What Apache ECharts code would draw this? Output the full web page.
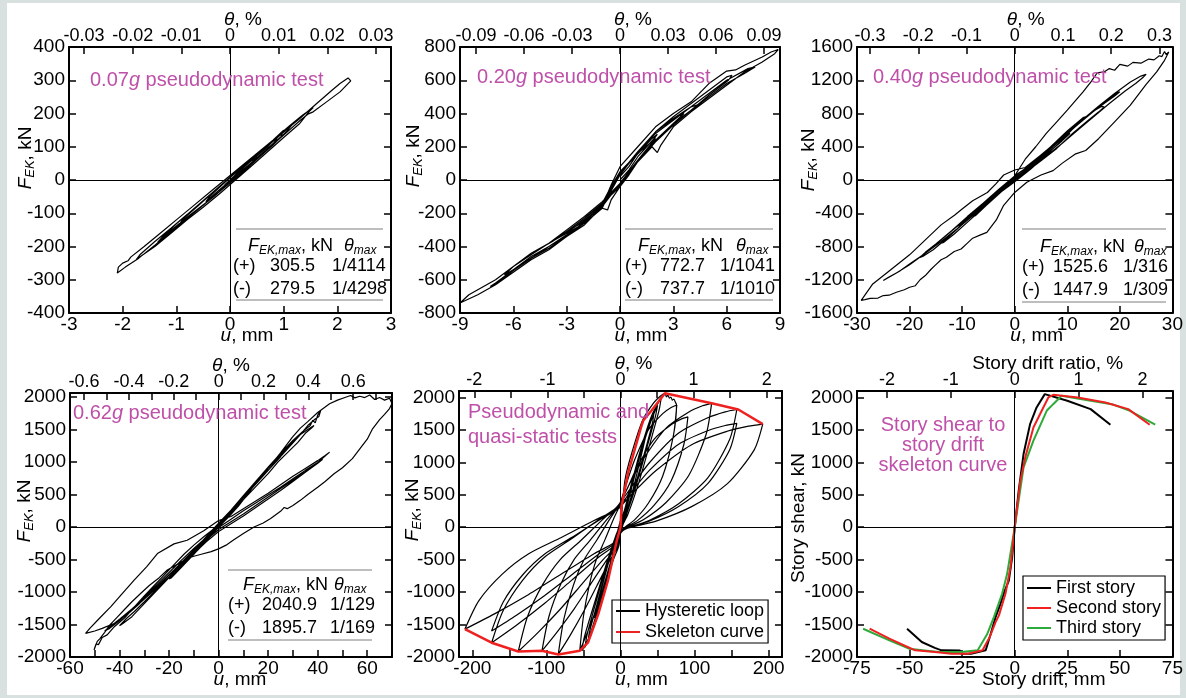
<!DOCTYPE html>
<html><head><meta charset="utf-8">
<script src="https://cdn.jsdelivr.net/npm/echarts@6/dist/echarts.min.js"></script>
<style>html,body{margin:0;padding:0;background:#d8e0e0}#c{width:1186px;height:698px}</style>
</head><body><div id="c"></div>
<script>
// ---------------- tick / label values ----------------
const xTicks1 = [-3,-2,-1,0,1,2,3];
const xTicks2 = [-9,-6,-3,0,3,6,9];
const xTicks3 = [-30,-20,-10,0,10,20,30];
const xLabels4 = [-60,-40,-20,0,20,40,60];
const xTicks4 = [-60,-50,-40,-30,-20,-10,0,10,20,30,40,50,60,70];
const xLabels5 = [-200,-100,0,100,200];
const xTicks5 = [-200,-150,-100,-50,0,50,100,150,200];
const xTicks6 = [-75,-50,-25,0,25,50,75];
const tTicks1 = [-0.03,-0.02,-0.01,0,0.01,0.02,0.03];
const tTicks2 = [-0.09,-0.06,-0.03,0,0.03,0.06,0.09];
const tTicks3 = [-0.3,-0.2,-0.1,0,0.1,0.2,0.3];
const tLabels4 = [-0.6,-0.4,-0.2,0,0.2,0.4,0.6];
const tTicks4 = [-0.6,-0.5,-0.4,-0.3,-0.2,-0.1,0,0.1,0.2,0.3,0.4,0.5,0.6,0.7];
const tLabels5 = [-2,-1,0,1,2];
const tTicks5 = [-2,-1.5,-1,-0.5,0,0.5,1,1.5,2];
const tTicks6 = [-2,-1,0,1,2];
const yTicks1 = [-400,-300,-200,-100,0,100,200,300,400];
const yTicks2 = [-800,-600,-400,-200,0,200,400,600,800];
const yTicks3 = [-1600,-1200,-800,-400,0,400,800,1200,1600];
const yTicks4 = [-2000,-1500,-1000,-500,0,500,1000,1500,2000];

// ---------------- table values ----------------
const tableFmax = [['305.5','279.5'],['772.7','737.7'],['1525.6','1447.9'],['2040.9','1895.7']];
const tableTheta = [['1/4114','1/4298'],['1/1041','1/1010'],['1/316','1/309'],['1/129','1/169']];

// ---------------- series values: [u (mm), F (kN)] ----------------
const loop007 = [
[0,0],[0.2,30],[0.45,65],[0.5,72],[0.42,55],[0.2,22],[0,-2],[-0.2,-30],[-0.4,-58],[-0.45,-66],[-0.38,-50],[-0.15,-15],[0.1,22],[0.4,58],[0.7,100],[0.85,125],[0.9,132],[0.82,112],[0.55,72],[0.25,28],[0,-8],[-0.3,-50],[-0.6,-88],[-0.85,-120],[-0.95,-135],[-0.88,-118],[-0.6,-78],[-0.3,-35],[0,8],[0.3,45],[0.6,88],[0.9,130],[1.1,158],[1.15,165],[1.05,145],[0.8,105],[0.5,62],[0.2,18],[-0.1,-22],[-0.4,-62],[-0.8,-112],[-1.1,-152],[-1.3,-180],[-1.35,-188],[-1.25,-170],[-1.0,-132],[-0.7,-90],[-0.4,-48],[-0.1,-6],[0.2,36],[0.5,78],[0.8,120],[1.1,162],[1.35,195],[1.5,212],[1.55,218],[1.47,205],[1.5,200],[1.3,170],[1.0,128],[0.7,85],[0.4,42],[0.1,0],[-0.2,-42],[-0.5,-82],[-0.8,-120],[-1.1,-160],[-1.4,-200],[-1.65,-228],[-1.75,-240],[-1.68,-225],[-1.4,-185],[-1.1,-145],[-0.8,-104],[-0.5,-62],[-0.2,-20],[0.1,22],[0.4,62],[0.7,104],[1.0,145],[1.3,185],[1.6,228],[1.9,270],[2.05,290],[2.2,307],[2.25,298],[2.05,265],[1.8,235],[1.55,205],[1.45,198],[1.3,178],[1.0,135],[0.7,92],[0.4,50],[0.1,8],[-0.2,-35],[-0.5,-76],[-0.8,-116],[-1.1,-156],[-1.4,-196],[-1.7,-235],[-1.95,-262],[-2.1,-280],[-2.08,-262],[-2.0,-250],[-1.9,-243],[-1.85,-232],[-1.6,-200],[-1.3,-160],[-1.0,-120],[-0.7,-80],[-0.4,-40],[-0.1,0],[0.2,40],[0.5,80],[0.8,120],[1.0,150],[0.95,130],[0.7,95],[0.4,52],[0.1,12],[-0.1,-15],[0,0]
];
const loop020 = [
[0,0],[0.5,60],[1,140],[1.5,200],[2,260],[2.1,275],[1.8,250],[1.2,180],[0.5,100],[0,30],[-0.5,-60],[-1,-150],[-1.5,-200],[-2,-240],[-2.2,-260],[-1.8,-230],[-1,-160],[-0.5,-90],[0,-20],[0.5,50],[1,120],[2,230],[3,340],[3.6,400],[3.2,380],[2.5,320],[2,280],[1,170],[0.5,100],[0,40],[-0.6,-70],[-1,-170],[-2,-260],[-3,-320],[-4,-380],[-4.3,-400],[-3.8,-370],[-3,-310],[-2,-230],[-1,-140],[0,-30],[1,110],[2,230],[3,330],[4,420],[5,510],[6.1,600],[6.3,630],[6,620],[5,540],[4,460],[3,380],[2,290],[1.5,220],[1,160],[0,50],[-0.5,-40],[-1,-140],[-2,-260],[-3,-335],[-4,-400],[-5,-460],[-6,-540],[-7,-620],[-7.3,-640],[-6.8,-610],[-6,-545],[-5,-470],[-4,-410],[-3,-340],[-2,-250],[-1,-160],[-0.5,-90],[0,-40],[0.5,30],[1,110],[1.8,200],[2.1,165],[2.3,210],[3,320],[4,410],[5,490],[6,570],[7,650],[8,710],[8.7,760],[8.9,785],[8.5,770],[8,740],[7,690],[6.5,662],[6,655],[5,580],[4,470],[3,400],[2,320],[1,200],[0,80],[-0.5,-30],[-1,-160],[-2,-270],[-3,-340],[-4,-420],[-5,-480],[-6,-555],[-7,-630],[-8,-690],[-9,-740],[-9.1,-750],[-8.5,-690],[-7.5,-630],[-7,-600],[-6,-520],[-5,-440],[-4,-380],[-3,-300],[-2,-220],[-1,-130],[0,-20],[1,120],[2,230],[3,330],[4,420],[5,500],[6,580],[7,640],[7.6,680],[7.2,670],[6,600],[5,520],[4,440],[3,360],[2,280],[1,170],[0,40],[-1,-150],[-2,-255],[-3,-330],[-4,-400],[-5,-470],[-6,-540],[-6.5,-570],[-6,-520],[-5,-450],[-4,-380],[-3,-310],[-2,-230],[-1,-150],[0,-20],[1,120],[2,240],[3,340],[4,420],[4.6,460],[4,440],[3,370],[2,290],[1,170],[0,30],[-1,-160],[-2,-250],[-3,-310],[-3.2,-330],[-2.5,-280],[-1.5,-200],[-1,-170],[-0.7,-180],[-0.5,-120],[0,-40],[1,120],[2,250],[1,160],[0.5,80],[0,20]
];
const loop040 = [
[0,0],[2,90],[4,190],[5.5,270],[5,265],[3,170],[1,70],[-1,-40],[-3,-150],[-5,-250],[-6,-300],[-5.5,-290],[-3.5,-190],[-1.5,-80],[0.5,30],[3,150],[6,310],[9,470],[10.5,560],[10,555],[8,460],[5,300],[2,140],[0,40],[-2,-70],[-5,-230],[-8,-400],[-10,-500],[-11,-560],[-10.5,-545],[-8.5,-440],[-5.5,-280],[-2.5,-110],[0,20],[2.5,110],[5,230],[8,380],[11,560],[14,720],[16,820],[17,880],[16.5,885],[15,830],[12,680],[9,520],[6,350],[3,180],[0,50],[-3,-110],[-6,-280],[-9,-440],[-12,-610],[-15,-770],[-17,-870],[-18,-930],[-17.5,-920],[-15.5,-840],[-12.5,-680],[-9,-480],[-6,-300],[-3,-130],[0,30],[3,150],[6,290],[9,440],[12,600],[15,760],[18,920],[21,1070],[23,1160],[24.5,1240],[25,1270],[24,1250],[22,1180],[19,1040],[16,890],[13,730],[10,570],[7,400],[4,230],[1,70],[-2,-100],[-5,-270],[-8,-430],[-11,-590],[-14,-740],[-17,-880],[-20,-1010],[-22,-1100],[-24,-1170],[-25,-1210],[-24.5,-1190],[-22.5,-1120],[-20,-1020],[-17,-880],[-14,-720],[-11,-560],[-8,-400],[-5,-240],[-2,-70],[0,50],
[1,150],[2,250],[4,400],[6,560],[8,700],[10,840],[11.6,958],[13,1060],[14.5,1180],[15.7,1290],[17,1300],[18,1340],[19,1320],[20,1390],[21.5,1370],[22.5,1415],[24,1405],[25.5,1455],[26.5,1445],[27.5,1495],[28,1485],[28.5,1545],[28.8,1510],[29.3,1540],[29.6,1525],[28.5,1440],[27,1300],[25,1150],[22,900],[19,700],[16,500],[13.5,355],[11.6,315],[9,200],[7.3,113],[5,60],[2.3,-28],[0,-150],[-2.1,-305],[-3.5,-480],[-5.3,-630],[-6.5,-660],[-8,-700],[-9,-760],[-10.2,-830],[-11.5,-860],[-13,-930],[-14,-960],[-15.2,-1030],[-16,-1080],[-17,-1150],[-18,-1200],[-18.9,-1272],[-20,-1290],[-21,-1320],[-22.5,-1350],[-23.9,-1386],[-25,-1390],[-26,-1420],[-27.5,-1425],[-28.5,-1440],[-29.2,-1448],[-27,-1250],[-24,-1100],[-20,-900],[-17,-720],[-14,-540],[-11.4,-420],[-10,-350],[-8,-250],[-5.2,-150],[-3.5,-40],[-2.1,60],[0,120],
[2,150],[5,300],[8,460],[11,620],[14,780],[17,920],[19,1010],[20,1060],[19.5,1050],[17.5,960],[14.5,800],[11.5,640],[8.5,470],[5.5,300],[2.5,130],[0,10],[-2,-100],[-5,-260],[-8,-420],[-11,-590],[-13,-700],[-14,-760],[-13.5,-750],[-11.5,-650],[-8.5,-480],[-5.5,-310],[-2.5,-140],[0,-20],[3,130],[6,300],[9,480],[12,680],[13.5,760],[13,750],[10,590],[7,410],[4,220],[1,50],[-2,-110],[-5,-280],[-7,-390],[-8,-440],[-7.5,-430],[-5,-280],[-2,-100],[0,0]
];
const loop062 = [
[0,0],[4,150],[8,330],[10,420],[9,400],[6,270],[2,90],[-2,-80],[-6,-230],[-9,-350],[-10,-400],[-9,-380],[-6,-260],[-2,-90],[2,100],[6,280],[10,460],[14,640],[18,800],[20,880],[19,860],[15,700],[10,480],[5,250],[0,40],[-5,-180],[-10,-390],[-15,-590],[-18,-720],[-20,-800],[-19,-780],[-15,-620],[-10,-420],[-5,-200],[0,20],
[5,250],[10,470],[15,680],[20,900],[25,1100],[30,1320],[33,1420],[36,1500],[38.5,1560],[37.5,1520],[35,1440],[32,1300],[28,1150],[24,1000],[20,820],[15,620],[10,420],[5,210],[0,20],[-5,-170],[-10,-370],[-15,-570],[-20,-770],[-25,-960],[-30,-1150],[-34,-1300],[-37,-1400],[-40,-1520],[-38.5,-1480],[-35,-1380],[-30,-1180],[-25,-980],[-20,-780],[-15,-570],[-10,-360],[-5,-150],[0,60],
[5,260],[10,480],[15,700],[20,920],[25,1130],[30,1330],[34,1470],[37,1560],[38,1640],[39,1600],[40,1720],[41.2,1790],[40.5,1700],[39,1660],[36,1560],[33,1420],[29,1250],[25,1080],[20,870],[15,660],[10,450],[5,240],[0,40],[-6,-200],[-12,-430],[-18,-660],[-24,-880],[-30,-1100],[-36,-1300],[-42,-1480],[-47,-1560],[-50,-1600],[-53.7,-1637],[-52,-1560],[-48,-1400],[-43.6,-1228],[-39,-1030],[-34.1,-819],[-29,-610],[-24.7,-409],[-18,-260],[-12.7,-204],[-6,-60],[0,100],
[5,160],[10,280],[15,400],[20,520],[25,650],[30,780],[35,900],[40,1020],[43,1100],[44.8,1150],[43,1090],[40,990],[35,850],[30,720],[25,590],[20,460],[15,330],[10,200],[5,80],[0,-40],[-5,-200],[-10,-380],[-15,-560],[-20,-740],[-25,-920],[-30,-1090],[-35,-1260],[-40,-1420],[-44,-1540],[-46,-1600],[-44,-1560],[-40,-1440],[-35,-1270],[-30,-1080],[-25,-890],[-20,-700],[-15,-510],[-10,-330],[-5,-160],[0,-10],[5,120],[10,250],[15,370],[20,490],[25,610],[30,740],[35,870],[40,990],[42,1040],[40,980],[35,840],[30,700],[25,560],[20,430],[15,300],[10,170],[5,50],[0,-70],[-5,-230],[-10,-410],[-15,-590],[-20,-770],[-25,-940],[-30,-1110],[-35,-1280],[-39,-1400],[-37,-1350],[-32,-1180],[-26,-960],[-20,-740],[-14,-520],[-8,-300],[-2,-80],[0,0],
[4,150],[8,320],[12,520],[16,720],[20,900],[25,1140],[29.8,1382],[33,1520],[36,1620],[40,1760],[44.8,1894],[48,1950],[51,1990],[53.3,2021],[55,1985],[57,2010],[59,1990],[61,2030],[63,1960],[65,1990],[67,1950],[69,1980],[70,1900],[69,1820],[67,1730],[65,1650],[62,1500],[60,1350],[57,1200],[54,1050],[50,910],[46.6,819],[43,700],[40,610],[36,500],[33,409],[30,330],[27.7,281],[26.5,300],[25,240],[21,130],[18,60],[14.3,0],[10,-100],[6,-200],[3,-280],[0.2,-333],[-3,-380],[-7,-420],[-10,-450],[-12.7,-484],[-16,-560],[-20.7,-662],[-24,-780],[-28,-900],[-31.5,-1023],[-35,-1150],[-38,-1270],[-41,-1390],[-44,-1510],[-46,-1620],[-48,-1720],[-49,-1760],[-50.3,-1893],[-49.5,-1800],[-48.5,-1810],[-47,-1700],[-45,-1660],[-42,-1530],[-38,-1400],[-34,-1230],[-30,-1060],[-26,-900],[-22,-740],[-18,-580],[-14,-420],[-10,-280],[-6,-150],[-2,-30],[0,30]
];
const loopQS = [
[0,0],[8,320],[15,600],[12,470],[5,150],[0,-20],[-8,-330],[-15,-620],[-12,-480],[-5,-150],[0,30],[10,420],[20,850],[30,1250],[40,1600],[45,1750],[43,1600],[35,1250],[20,650],[8,200],[0,-80],[-10,-450],[-20,-850],[-30,-1250],[-40,-1620],[-44,-1780],[-42,-1620],[-32,-1200],[-18,-600],[-6,-150],[0,100],[10,400],[25,1050],[35,1450],[30,1200],[15,500],[0,-50],[-15,-600],[-30,-1200],[-35,-1400],[-30,-1150],[-15,-500],[0,60],
[12,520],[25,1050],[38,1550],[50,1880],[47,1700],[35,1200],[20,600],[5,100],[0,-60],[-12,-520],[-25,-1050],[-38,-1550],[-48,-1850],[-45,-1650],[-33,-1150],[-18,-550],[-5,-100],[0,40],[15,680],[28,1230],[42,1720],[55,2000],[52,1800],[40,1300],[25,700],[10,200],[0,-40],[-15,-680],[-30,-1300],[-45,-1780],[-52,-1900],[-49,-1700],[-36,-1200],[-20,-600],[-6,-120],[0,60],
[6,723],[15,1136],[30,1652],[45,1920],[54,2024],[60,2065],[62,2010],[64,2035],[66,1990],[68,2005],[70,1960],[72,1975],[74,1930],[75.6,1884],[71.4,1413],[57,791],[38,377],[19,113],[3.8,-19],[0,-94],[-2.2,-286],[-9.4,-495],[-20.9,-876],[-32.5,-1257],[-44.6,-1619],[-55,-1905],[-50,-1372],[-41.8,-876],[-32.5,-495],[-20.9,-191],[-9.4,126],[-2.2,305],[0,381],
[7.6,659],[19,1036],[38,1507],[57,1752],[68.4,1846],[76,1884],[71.4,1413],[57,791],[38,377],[19,113],[3.8,-19],[0,-94],[-3.4,-294],[-14.3,-510],[-31.9,-902],[-49.6,-1294],[-68,-1666],[-84,-1960],[-76.4,-1411],[-63.8,-902],[-49.6,-510],[-31.9,-196],[-14.3,129],[-3.4,314],[0,392],
[9.1,595],[22.8,935],[45.5,1360],[68.3,1581],[81.9,1666],[91,1700],[85.5,1275],[68.3,714],[45.5,340],[22.8,102],[4.6,-17],[0,-85],[-4.2,-286],[-18,-495],[-40.3,-876],[-62.5,-1257],[-85.9,-1619],[-106,-1905],[-96.5,-1372],[-80.6,-876],[-62.5,-495],[-40.3,-191],[-18,126],[-4.2,305],[0,381],
[12.3,669],[30.8,1051],[61.5,1528],[92.3,1776],[110.7,1872],[123,1910],[115.6,1433],[92.3,802],[61.5,382],[30.8,115],[6.2,-19],[0,-96],[-5.5,-287],[-23.5,-498],[-52.4,-881],[-81.4,-1264],[-111.8,-1628],[-138,-1915],[-125.6,-1379],[-104.9,-881],[-81.4,-498],[-52.4,-192],[-23.5,126],[-5.5,306],[0,383],
[15.7,635],[39.3,998],[78.5,1452],[117.8,1688],[141.3,1779],[157,1815],[147.6,1361],[117.8,762],[78.5,363],[39.3,109],[7.9,-18],[0,-91],[-7,-267],[-29.6,-463],[-66.1,-819],[-102.7,-1175],[-140.9,-1513],[-174,-1780],[-158.3,-1282],[-132.2,-819],[-102.7,-463],[-66.1,-178],[-29.6,117],[-7,285],[0,356],
[15.7,560],[39.3,880],[78.5,1280],[117.8,1488],[141.3,1568],[157,1600],[147.6,1200],[117.8,672],[78.5,320],[39.3,96],[7.9,-16],[0,-80],[-7,-240],[-29.6,-416],[-66.1,-736],[-102.7,-1056],[-140.9,-1360],[-174,-1600],[-158.3,-1152],[-132.2,-736],[-102.7,-416],[-66.1,-160],[-29.6,106],[-7,256],[0,320],
[19.2,557],[48,875],[96,1272],[144,1479],[172.8,1558],[192,1590],[180.5,1193],[144,668],[96,318],[48,95],[9.6,-16],[0,-80],[-8.4,-236],[-35.7,-408],[-79.8,-722],[-123.9,-1036],[-170.1,-1335],[-210,-1570],[-191.1,-1130],[-159.6,-722],[-123.9,-408],[-79.8,-157],[-35.7,104],[-8.4,251],[0,314],[10,500],[15,640]
];
const skeletonQS = [[-210,-1570],[-174,-1780],[-138,-1915],[-106,-1905],[-84,-1960],[-55,-1905],[-44,-1780],[-30,-1340],[-17,-825],[-5,-206],[0,0],[1.3,310],[10,830],[28,1550],[31,1650],[42,1800],[60,2065],[123,1910],[159,1815],[192,1590]];
const story1 = [[-51.2,-1564],[-44.2,-1769],[-38,-1860],[-34.8,-1897],[-26,-1900],[-25.5,-1950],[-20.8,-1949],[-13.8,-1897],[-11.4,-1641],[-9.1,-1385],[-7,-1200],[-5,-1000],[-2.8,-821],[-1.2,-459],[0,0],[1.9,564],[4.2,1128],[7.3,1590],[10.4,1846],[14.3,2052],[25,1950],[36.1,1821],[45.5,1580]];
const story2 = [[-69,-1564],[-59.6,-1718],[-52,-1830],[-47.3,-1897],[-37.9,-1923],[-30.1,-1949],[-22.3,-1949],[-15.3,-1897],[-12,-1700],[-9.1,-1462],[-7.5,-1359],[-4.4,-1026],[-2,-615],[0,0],[2.7,718],[5,1077],[8.9,1538],[13.6,1846],[16,2000],[18.3,2041],[30,2000],[43.1,1923],[54,1821],[64.2,1580]];
const story3 = [[-72.1,-1564],[-59.6,-1744],[-50.3,-1872],[-36.3,-1923],[-25.4,-1923],[-17.6,-1897],[-13,-1641],[-9.9,-1385],[-6,-1026],[-3.6,-718],[0,0],[4.2,923],[8.9,1334],[15.2,1795],[18.3,1897],[22.3,2026],[34,1960],[46.2,1897],[54.8,1795],[66.8,1580]];

// ---------------- layout ----------------
const FONT = '"Liberation Sans", Arial, Helvetica, sans-serif';
const INK = '#000';
const MAG = '#bf50a9';
const FS = 19;

const panels = [
  {grid:{left:69,top:47,width:322,height:266}, x:[-3,3], t:[-0.0331,0.0331], y:[-400,400],
   xl:xTicks1, xt:xTicks1, tl:tTicks1, tt:tTicks1, yv:yTicks1, tShift:13, bShift:17, yShift:22, yGap:32},
  {grid:{left:460,top:47,width:320,height:266}, x:[-9,9], t:[-0.1,0.1], y:[-800,800],
   xl:xTicks2, xt:xTicks2, tl:tTicks2, tt:tTicks2, yv:yTicks2, tShift:13, bShift:21, yShift:24, yGap:35},
  {grid:{left:857,top:47,width:321,height:266}, x:[-30,30], t:[-0.327,0.327], y:[-1600,1600],
   xl:xTicks3, xt:xTicks3, tl:tTicks3, tt:tTicks3, yv:yTicks3, tShift:11, bShift:22, yShift:20, yGap:37},
  {grid:{left:70,top:393,width:322,height:264}, x:[-60,70], t:[-0.663,0.773], y:[-2000,2060],
   xl:xLabels4, xt:xTicks4, tl:tLabels4, tt:tTicks4, yv:yTicks4, tShift:0, bShift:9, yShift:14, yGap:34},
  {grid:{left:459,top:391,width:323,height:266}, x:[-218,218], t:[-2.21,2.21], y:[-2000,2100],
   xl:xLabels5, xt:xTicks5, tl:tLabels5, tt:tTicks5, yv:yTicks4, tShift:13, bShift:21, yShift:14, yGap:35},
  {grid:{left:857,top:391,width:321,height:266}, x:[-75,75], t:[-2.47,2.47], y:[-2000,2100],
   xl:xTicks6, xt:xTicks6, tl:tTicks6, tt:tTicks6, yv:yTicks4, tShift:33, bShift:29, yShift:6, yGap:49,
   bName:'Story drift, mm', tName:'Story drift ratio, %', yName:'Story shear, kN'}
];

const richName = {
  i:{fontStyle:'italic', fontSize:FS, fontFamily:FONT, color:INK},
  n:{fontSize:FS, fontFamily:FONT, color:INK},
  s:{fontStyle:'italic', fontSize:13, fontFamily:FONT, color:INK, padding:[10,0,0,0]}
};
const fmt = v => String(v);
const lineStyleAxis = {color:INK, width:2};

const xAxes = [], yAxes = [], grids = [];
panels.forEach((p, i) => {
  grids.push(p.grid);
  const nameTS = shift => ({fontSize:FS, fontFamily:FONT, color:INK, rich:richName, padding:[0,0,0,2*shift]});
  xAxes.push({
    type:'value', gridIndex:i, position:'bottom', min:p.x[0], max:p.x[1],
    axisLine:{show:true, onZero:false, lineStyle:lineStyleAxis},
    axisTick:{show:true, inside:true, length:7, lineStyle:{color:INK,width:1.5}, customValues:p.xt},
    axisLabel:{show:true, margin:2, fontSize:FS, fontFamily:FONT, color:INK, customValues:p.xl, formatter:fmt},
    splitLine:{show:false},
    name: p.bName ? '{n|'+p.bName+'}' : '{i|u}{n|, mm}', nameLocation:'middle', nameGap:13, nameMoveOverlap:false,
    nameTextStyle:nameTS(p.bShift)
  });
  xAxes.push({
    type:'value', gridIndex:i, position:'top', min:p.t[0], max:p.t[1],
    axisLine:{show:true, onZero:false, lineStyle:lineStyleAxis},
    axisTick:{show:true, inside:true, length:7, lineStyle:{color:INK,width:1.5}, customValues:p.tt},
    axisLabel:{show:true, margin:2, fontSize:18, fontFamily:FONT, color:INK, customValues:p.tl, formatter:fmt},
    splitLine:{show:false},
    name: p.tName ? '{n|'+p.tName+'}' : '{i|θ}{n|, %}', nameLocation:'middle', nameGap:18, nameMoveOverlap:false,
    nameTextStyle:nameTS(p.tShift)
  });
  yAxes.push({
    type:'value', gridIndex:i, position:'left', min:p.y[0], max:p.y[1],
    axisLine:{show:true, onZero:false, lineStyle:lineStyleAxis},
    axisTick:{show:true, inside:true, length:7, lineStyle:{color:INK,width:1.5}, customValues:p.yv},
    axisLabel:{show:true, margin:4, fontSize:FS, fontFamily:FONT, color:INK, customValues:p.yv, formatter:fmt},
    splitLine:{show:false},
    name: p.yName ? '{n|'+p.yName+'}' : '{i|F}{s|EK}{n|, kN}', nameLocation:'middle', nameGap:p.yGap, nameMoveOverlap:false,
    nameTextStyle:nameTS(p.yShift)
  });
  yAxes.push({
    type:'value', gridIndex:i, position:'right', min:p.y[0], max:p.y[1],
    axisLine:{show:true, onZero:false, lineStyle:lineStyleAxis},
    axisTick:{show:true, inside:true, length:7, lineStyle:{color:INK,width:1.5}, customValues:p.yv},
    axisLabel:{show:false}, splitLine:{show:false}
  });
});

const zeroLines = {
  silent:true, symbol:['none','none'], animation:false, label:{show:false},
  lineStyle:{color:INK, width:1, type:'solid'}, emphasis:{disabled:true},
  data:[{xAxis:0},{yAxis:0}]
};
function lineSeries(name, i, data, color, width, extra) {
  return Object.assign({
    type:'line', name, xAxisIndex:2*i, yAxisIndex:2*i, data,
    symbol:'none', showSymbol:false, animation:false, clip:true,
    lineStyle:{color, width}, itemStyle:{color}, emphasis:{disabled:true}
  }, extra || {});
}
const series = [
  lineSeries('0.07g', 0, loop007, INK, 1.2, {markLine:zeroLines}),
  lineSeries('0.20g', 1, loop020, INK, 1.2, {markLine:zeroLines}),
  lineSeries('0.40g', 2, loop040, INK, 1.2, {markLine:zeroLines}),
  lineSeries('0.62g', 3, loop062, INK, 1.2, {markLine:zeroLines}),
  lineSeries('Hysteretic loop', 4, loopQS, INK, 1.2, {markLine:zeroLines, smooth:0.25}),
  lineSeries('Skeleton curve', 4, skeletonQS, '#ee2020', 2.5, {z:5}),
  lineSeries('First story', 5, story1, INK, 2, {markLine:zeroLines}),
  lineSeries('Second story', 5, story2, '#ee2020', 2, {z:4}),
  lineSeries('Third story', 5, story3, '#2eaa3a', 2, {z:3})
];

// ---------------- graphic texts ----------------
function richG(fs) {
  return {
    n:{fontSize:fs, fontFamily:FONT},
    i:{fontSize:fs, fontFamily:FONT, fontStyle:'italic'},
    s:{fontSize:12, fontFamily:FONT, fontStyle:'italic', padding:[9,0,0,0]}
  };
}
function gText(x, y, text, fill, align, fs) {
  fs = fs || FS;
  return {type:'text', x, y, z:10, silent:true,
    style:{text, fill, font: fs+'px '+FONT, rich:richG(fs), textAlign:align||'left', textVerticalAlign:'middle'}};
}
const graphics = [
  {type:'rect', shape:{x:7, y:3, width:1173, height:692}, style:{fill:'#fff'}, z:-10, silent:true},
  gText(90, 80, '{n|0.07}{i|g}{n| pseudodynamic test}', MAG, 'left', 20),
  gText(477, 77, '{n|0.20}{i|g}{n| pseudodynamic test}', MAG, 'left', 20),
  gText(873, 77, '{n|0.40}{i|g}{n| pseudodynamic test}', MAG, 'left', 20),
  gText(73, 413, '{n|0.62}{i|g}{n| pseudodynamic test}', MAG, 'left', 20),
  gText(468, 412, '{n|Pseudodynamic and}', MAG, 'left', 20),
  gText(468, 437, '{n|quasi-static tests}', MAG, 'left', 20),
  gText(943, 425, '{n|Story shear to}', MAG, 'center', 20),
  gText(943, 445, '{n|story drift}', MAG, 'center', 20),
  gText(943, 465, '{n|skeleton curve}', MAG, 'center', 20)
];
const tables = [
  {x0:236, x1:383, yl:[229,300], yh:246, yr:[266,289], cs:233, cv:270, ct:332, hF:248, hT:344},
  {x0:625, x1:773, yl:[229,300], yh:246, yr:[266,289], cs:625, cv:660, ct:720, hF:638, hT:736},
  {x0:1022, x1:1166, yl:[229,302], yh:247, yr:[267,290], cs:1022, cv:1053, ct:1123, hF:1040, hT:1134},
  {x0:228, x1:372, yl:[570,640], yh:585, yr:[605,628], cs:228, cv:262, ct:330, hF:243, hT:334}
];
const TFS = 18;
tables.forEach((t, k) => {
  t.yl.forEach(yy => graphics.push({type:'line', z:9, silent:true, shape:{x1:t.x0, y1:yy, x2:t.x1, y2:yy}, style:{stroke:'#a8a8a8', lineWidth:1.5}}));
  graphics.push(gText(t.hF, t.yh, '{i|F}{s|EK,max}{n|, kN}', INK, 'left', TFS));
  graphics.push(gText(t.hT, t.yh, '{i|θ}{s|max}', INK, 'left', TFS));
  ['(+)','(-)'].forEach((sg, r) => {
    graphics.push(gText(t.cs, t.yr[r], '{n|'+sg+'}', INK, 'left', TFS));
    graphics.push(gText(t.cv, t.yr[r], '{n|'+tableFmax[k][r]+'}', INK, 'left', TFS));
    graphics.push(gText(t.ct, t.yr[r], '{n|'+tableTheta[k][r]+'}', INK, 'left', TFS));
  });
});

const legendBase = {
  orient:'vertical', icon:'rect', itemWidth:24, itemHeight:2, selectedMode:false,
  borderColor:INK, borderWidth:1.2, backgroundColor:'#fff',
  textStyle:{fontSize:18, fontFamily:FONT, color:INK}
};
const option = {
  animation:false,
  backgroundColor:'#d8e0e0',
  grid:grids, xAxis:xAxes, yAxis:yAxes, series,
  legend:[
    Object.assign({}, legendBase, {data:['Hysteretic loop','Skeleton curve'], left:612, top:600, itemGap:3, padding:[2,4,2,4]}),
    Object.assign({}, legendBase, {data:['First story','Second story','Third story'], left:1023, top:576, itemGap:2, padding:[3,4,3,4]})
  ],
  graphic:graphics
};
const chart = echarts.init(document.getElementById('c'), null, {renderer:'canvas'});
chart.setOption(option);
</script></body></html>
